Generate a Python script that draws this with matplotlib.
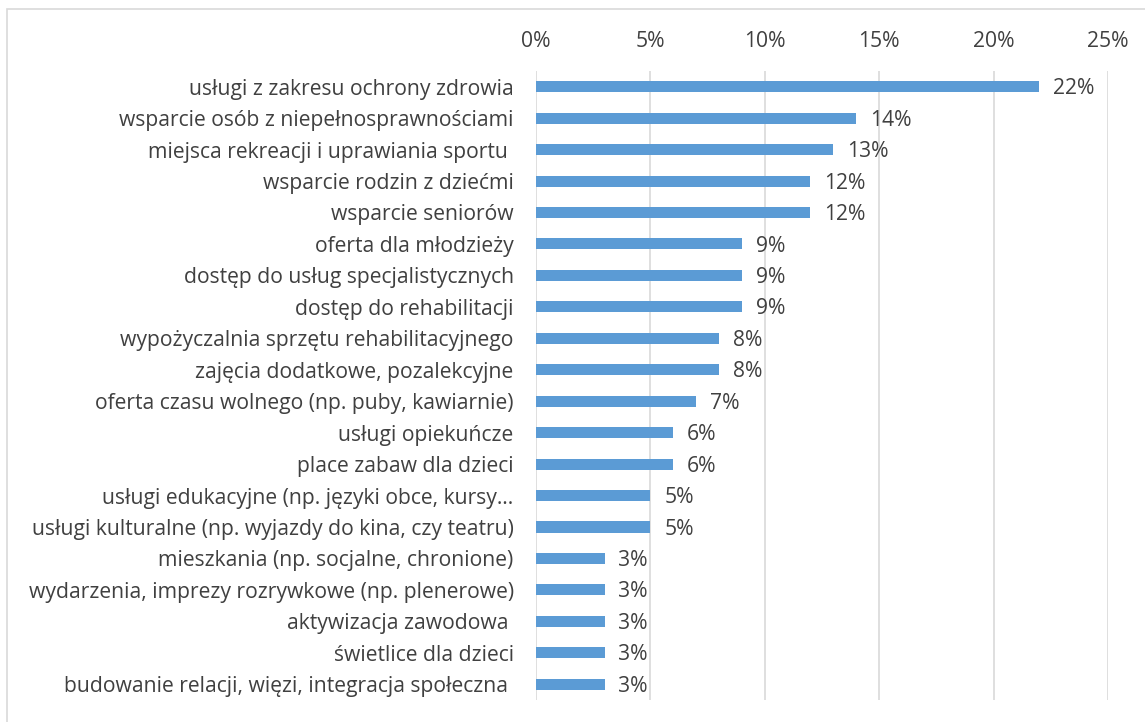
import matplotlib
matplotlib.use('Agg')
from matplotlib import pyplot as plt
from matplotlib.patches import Rectangle

categories = [
    'usługi z zakresu ochrony zdrowia',
    'wsparcie osób z niepełnosprawnościami',
    'miejsca rekreacji i uprawiania sportu ',
    'wsparcie rodzin z dziećmi',
    'wsparcie seniorów',
    'oferta dla młodzieży',
    'dostęp do usług specjalistycznych',
    'dostęp do rehabilitacji',
    'wypożyczalnia sprzętu rehabilitacyjnego',
    'zajęcia dodatkowe, pozalekcyjne',
    'oferta czasu wolnego (np. puby, kawiarnie)',
    'usługi opiekuńcze',
    'place zabaw dla dzieci',
    'usługi edukacyjne (np. języki obce, kursy…',
    'usługi kulturalne (np. wyjazdy do kina, czy teatru)',
    'mieszkania (np. socjalne, chronione)',
    'wydarzenia, imprezy rozrywkowe (np. plenerowe)',
    'aktywizacja zawodowa ',
    'świetlice dla dzieci',
    'budowanie relacji, więzi, integracja społeczna ',
]
values = [22, 14, 13, 12, 12, 9, 9, 9, 8, 8, 7, 6, 6, 5, 5, 3, 3, 3, 3, 3]
xticks = [0, 5, 10, 15, 20, 25]

txt = '#404040'
fs = 15.2
plt.rcParams['font.family'] = ['Open Sans', 'DejaVu Sans']

fig = plt.figure(figsize=(11.45, 7.22), dpi=100)
ax = fig.add_axes([0.468, 0.0305, 0.4997, 0.8712])

pos = list(range(len(categories)))
ax.barh(pos, values, height=0.35, color='#5B9BD5', zorder=3)
for p, v in zip(pos, values):
    ax.annotate(f'{v}%', (v, p), xytext=(10, -1.5), textcoords='offset points',
                va='center', ha='left', fontsize=fs, color=txt)

ax.set_xlim(0, 25)
ax.set_ylim(len(categories) - 0.5, -0.5)
ax.set_xticks(xticks)
ax.set_xticklabels([f'{t}%' for t in xticks])
ax.set_yticks(pos)
ax.set_yticklabels(categories)
ax.xaxis.tick_top()
ax.tick_params(axis='x', length=0, pad=14, labelsize=fs, labelcolor=txt)
ax.tick_params(axis='y', length=0, pad=16, labelsize=fs, labelcolor=txt)
ax.grid(axis='x', color='#d9d9d9', linewidth=1.2, zorder=0)
for s in ax.spines.values():
    s.set_visible(False)

fig.patches.append(Rectangle((7 / 1145, -0.05), 1.2, 1.05 - 9 / 722,
                             transform=fig.transFigure, fill=False,
                             edgecolor='#d9d9d9', linewidth=1.2))

fig.savefig('out.png', dpi=100)
